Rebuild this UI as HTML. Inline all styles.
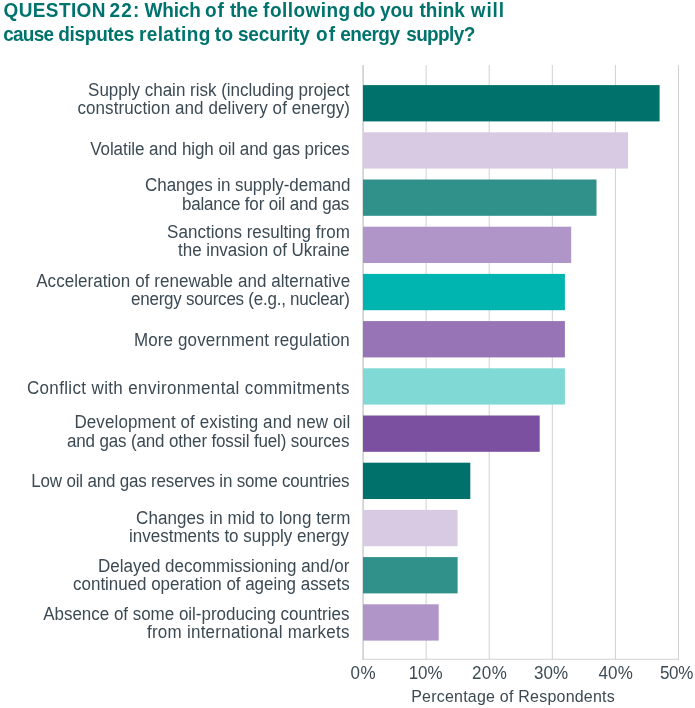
<!DOCTYPE html>
<html lang="en"><head><meta charset="utf-8"><title>Question 22</title>
<style>
html,body{margin:0;padding:0;background:#fff;}
body{width:695px;height:708px;position:relative;overflow:hidden;font-family:"Liberation Sans",Arial,sans-serif;color:#3c4a54;}
svg{position:absolute;left:0;top:0;}
h1{margin:0;font-size:19px;font-weight:bold;color:#00736d;}
h1 span,.l,.k,.x{position:absolute;white-space:nowrap;}
h1 span{line-height:24px;transform:scaleY(1.07);transform-origin:0 18px;}
.l,.k,.x{font-size:17px;line-height:20px;transform:scaleY(1.06);transform-origin:0 15px;}
.x{font-size:16px;}
</style></head><body>
<svg width="695" height="708" viewBox="0 0 695 708">
<rect x="425.60" y="65.1" width="1" height="594.7" fill="#d0d1d2"/>
<rect x="488.70" y="65.1" width="1" height="594.7" fill="#d0d1d2"/>
<rect x="551.80" y="65.1" width="1" height="594.7" fill="#d0d1d2"/>
<rect x="614.90" y="65.1" width="1" height="594.7" fill="#d0d1d2"/>
<rect x="678.00" y="65.1" width="1" height="594.7" fill="#d0d1d2"/>
<rect x="362.3" y="65.1" width="1.6" height="594.7" fill="#cdd0d3"/>
<rect x="362.3" y="658.8" width="316.7" height="1" fill="#d0d1d2"/>
<rect x="363.0" y="85.1" width="296.6" height="36.3" fill="#00726b"/>
<rect x="363.0" y="132.3" width="265.0" height="36.3" fill="#d9cae4"/>
<rect x="363.0" y="179.5" width="233.5" height="36.3" fill="#30918a"/>
<rect x="363.0" y="226.7" width="208.2" height="36.3" fill="#b096c8"/>
<rect x="363.0" y="273.9" width="201.9" height="36.3" fill="#00b4b0"/>
<rect x="363.0" y="321.1" width="201.9" height="36.3" fill="#9774b6"/>
<rect x="363.0" y="368.3" width="201.9" height="36.3" fill="#80d9d4"/>
<rect x="363.0" y="415.5" width="176.7" height="36.3" fill="#7b50a0"/>
<rect x="363.0" y="462.7" width="107.3" height="36.3" fill="#00726b"/>
<rect x="363.0" y="509.9" width="94.6" height="36.3" fill="#d9cae4"/>
<rect x="363.0" y="557.1" width="94.6" height="36.3" fill="#30918a"/>
<rect x="363.0" y="604.3" width="75.7" height="36.3" fill="#b096c8"/>
</svg>
<h1><span style="left:3.5px;top:-0.8px;letter-spacing:0.39px">QUESTION</span> <span style="left:109.4px;top:-0.8px;letter-spacing:1.25px">22:</span> <span style="left:144.6px;top:-0.8px;letter-spacing:-0.18px">Which</span> <span style="left:205.1px;top:-0.8px;letter-spacing:0.80px">of</span> <span style="left:229.9px;top:-0.8px;letter-spacing:-0.10px">the</span> <span style="left:263.1px;top:-0.8px;letter-spacing:0.47px">following</span> <span style="left:353.1px;top:-0.8px;letter-spacing:-1.00px">do</span> <span style="left:380.0px;top:-0.8px;letter-spacing:-0.10px">you</span> <span style="left:419.5px;top:-0.8px;letter-spacing:-0.02px">think</span> <span style="left:470.8px;top:-0.8px;letter-spacing:0.87px">will</span> <span style="left:3.3px;top:22.9px;letter-spacing:-0.80px">cause</span> <span style="left:58.2px;top:22.9px;letter-spacing:-0.27px">disputes</span> <span style="left:138.9px;top:22.9px;letter-spacing:0.39px">relating</span> <span style="left:214.8px;top:22.9px;letter-spacing:0.50px">to</span> <span style="left:237.9px;top:22.9px;letter-spacing:-0.13px">security</span> <span style="left:316.1px;top:22.9px;letter-spacing:1.00px">of</span> <span style="left:340.3px;top:22.9px;letter-spacing:-0.52px">energy</span> <span style="left:406.2px;top:22.9px;letter-spacing:-0.62px">supply?</span> </h1>
<div class="l" style="left:88.1px;top:80.5px;letter-spacing:-0.009px">Supply chain risk (including project</div>
<div class="l" style="left:77.4px;top:99.2px;letter-spacing:0.094px">construction and delivery of energy)</div>
<div class="l" style="left:90.2px;top:140.0px;letter-spacing:-0.071px">Volatile and high oil and gas prices</div>
<div class="l" style="left:145.1px;top:175.9px;letter-spacing:-0.070px">Changes in supply-demand</div>
<div class="l" style="left:181.9px;top:194.6px;letter-spacing:-0.168px">balance for oil and gas</div>
<div class="l" style="left:167.1px;top:222.5px;letter-spacing:0.017px">Sanctions resulting from</div>
<div class="l" style="left:178.1px;top:241.2px;letter-spacing:-0.059px">the invasion of Ukraine</div>
<div class="l" style="left:36.2px;top:271.6px;letter-spacing:0.052px">Acceleration of renewable and alternative</div>
<div class="l" style="left:131.0px;top:290.3px;letter-spacing:-0.241px">energy sources (e.g., nuclear)</div>
<div class="l" style="left:133.9px;top:331.4px;letter-spacing:0.132px">More government regulation</div>
<div class="l" style="left:26.9px;top:378.6px;letter-spacing:0.358px">Conflict with environmental commitments</div>
<div class="l" style="left:74.4px;top:413.3px;letter-spacing:0.106px">Development of existing and new oil</div>
<div class="l" style="left:66.9px;top:432.0px;letter-spacing:-0.150px">and gas (and other fossil fuel) sources</div>
<div class="l" style="left:31.3px;top:472.0px;letter-spacing:-0.190px">Low oil and gas reserves in some countries</div>
<div class="l" style="left:136.1px;top:508.5px;letter-spacing:0.065px">Changes in mid to long term</div>
<div class="l" style="left:129.1px;top:527.2px;letter-spacing:-0.011px">investments to supply energy</div>
<div class="l" style="left:98.0px;top:556.6px;letter-spacing:0.000px">Delayed decommissioning and/or</div>
<div class="l" style="left:73.1px;top:575.3px;letter-spacing:-0.037px">continued operation of ageing assets</div>
<div class="l" style="left:43.2px;top:604.5px;letter-spacing:-0.024px">Absence of some oil-producing countries</div>
<div class="l" style="left:147.0px;top:623.2px;letter-spacing:0.240px">from international markets</div>
<div class="k" style="left:350.6px;top:663.9px;letter-spacing:0.50px">0%</div>
<div class="k" style="left:408.8px;top:663.9px;letter-spacing:-0.15px">10%</div>
<div class="k" style="left:471.9px;top:663.9px;letter-spacing:0.50px">20%</div>
<div class="k" style="left:534.0px;top:663.9px;letter-spacing:0.00px">30%</div>
<div class="k" style="left:598.4px;top:663.9px;letter-spacing:0.20px">40%</div>
<div class="k" style="left:659.9px;top:663.9px;letter-spacing:-0.25px">50%</div>
<div class="x" style="left:411.2px;top:686.7px;letter-spacing:0.217px">Percentage of Respondents</div>
</body></html>
